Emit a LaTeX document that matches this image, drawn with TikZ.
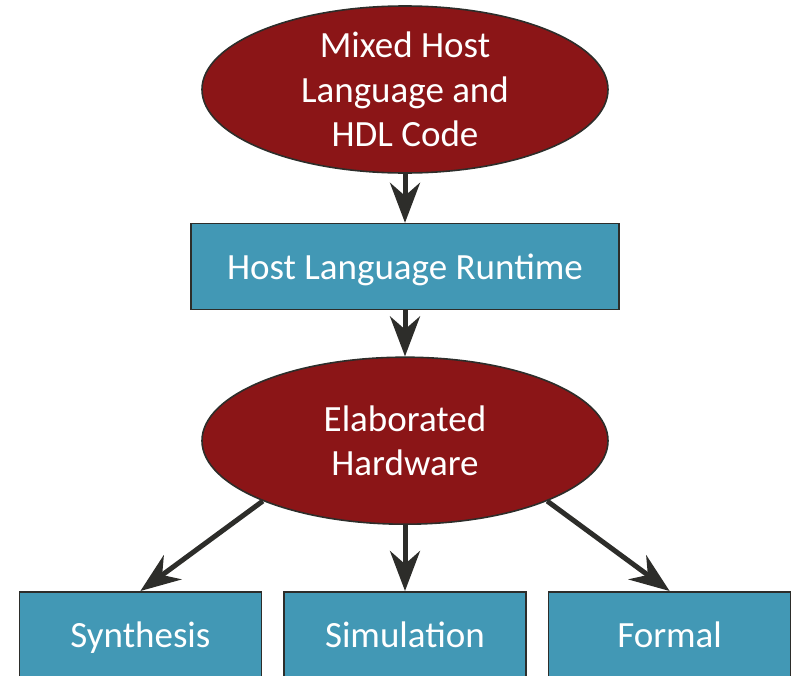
\documentclass[tikz,border=0pt]{standalone}
\usepackage{fontspec}
\setmainfont{Carlito}
\usepackage{tikz}
\usetikzlibrary{positioning,shapes.geometric,arrows.meta}
\usepackage{xcolor}
\definecolor{darkred}{RGB}{139,21,23}
\definecolor{teal}{RGB}{66,152,181}
\definecolor{edge}{RGB}{45,45,42}

\begin{document}
\begin{tikzpicture}[x=1pt,y=1pt,
  blob/.style = {draw=edge, line width=1.6pt, ellipse, fill=darkred, text=white, align=center, inner sep=-6pt, minimum width=406pt, minimum height=167pt, font=\fontsize{37}{44.5}\selectfont},
  stage/.style = {draw=edge, line width=1.6pt, rectangle, fill=teal, text=white, inner sep=0pt, minimum height=86pt, text height=29.5pt, text depth=4.5pt, font=\fontsize{37}{44.5}\selectfont},
  flow/.style = {draw=edge, line width=5pt, -{Stealth[length=40pt, width=30pt, inset=13pt]}}]
\useasboundingbox (0,0) rectangle (798,-675);
\node[blob] (mixed) at (405,-89.5) {Mixed Host\\Language and\\HDL Code};
\node[stage, minimum width=428pt] (rt) [below=49pt of mixed] {Host Language Runtime};
\node[blob] (hw) [below=46pt of rt] {Elaborated\\Hardware};
\node[stage, minimum width=242pt] (sim) [below=66pt of hw] {Simulation};
\node[stage, minimum width=242pt] (syn) [left=21pt of sim] {Synthesis};
\node[stage, minimum width=242pt] (frm) [right=21pt of sim] {Formal};

\draw[flow] (mixed) -- (rt);
\draw[flow] (rt) -- (hw);
\draw[flow] (hw.203) -- (syn.north);
\draw[flow] (hw) -- (sim);
\draw[flow] (hw.337) -- (frm.north);
\end{tikzpicture}
\end{document}
